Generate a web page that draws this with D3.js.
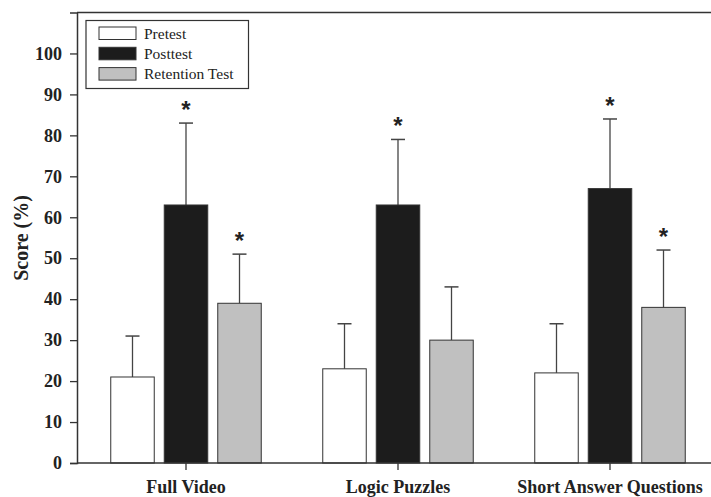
<!DOCTYPE html>
<html><head><meta charset="utf-8">
<script src="https://cdn.jsdelivr.net/npm/d3@7"></script>
<style>
body{margin:0;background:#fff;}
svg{display:block;font-family:"Liberation Serif","Times New Roman",serif;}
</style></head>
<body><svg id="c" width="711" height="497"></svg>
<script>
const categories = ["Full Video", "Logic Puzzles", "Short Answer Questions"];
const series = ["Pretest", "Posttest", "Retention Test"];
const pretest = [21, 23, 22];
const posttest = [63, 63, 67];
const retention = [39, 30, 38];
const pretestErr = [10, 11, 12];
const posttestErr = [20, 16, 17];
const retentionErr = [12, 13, 14];
const significant = [[false, true, true], [false, true, false], [false, true, true]];
const yTicks = [0, 10, 20, 30, 40, 50, 60, 70, 80, 90, 100];
const colors = ["#ffffff", "#1c1c1c", "#c0c0c0"];

const values = [pretest, posttest, retention];
const errs = [pretestErr, posttestErr, retentionErr];
const svg = d3.select("#c");
const axisColor = "#333";

const y = d3.scaleLinear().domain([0, 110]).range([463, 12.5]);
const x = d3.scaleBand().domain(categories).range([80, 716]).padding(0);
const inner = d3.scaleBand().domain(series).range([-75.25, 75.25]).paddingInner(0.187).paddingOuter(0);

// frame top line
svg.append("line").attr("x1", 77).attr("x2", 711).attr("y1", y(110)).attr("y2", y(110)).attr("stroke", axisColor).attr("stroke-width", 1.5);

// bars
categories.forEach((c, ci) => {
  series.forEach((s, si) => {
    const v = values[si][ci];
    const cx = x(c) + x.bandwidth() / 2;
    const bx = cx + inner(s);
    const bw = inner.bandwidth();
    const top = v + errs[si][ci];
    const mid = bx + bw / 2;
    svg.append("line").attr("x1", mid).attr("x2", mid).attr("y1", y(v)).attr("y2", y(top)).attr("stroke", "#444").attr("stroke-width", 1.3);
    svg.append("line").attr("x1", mid - 7).attr("x2", mid + 7).attr("y1", y(top)).attr("y2", y(top)).attr("stroke", "#444").attr("stroke-width", 1.5);
    svg.append("rect").attr("x", bx).attr("y", y(v)).attr("width", bw).attr("height", y(0) - y(v))
      .attr("fill", colors[si]).attr("stroke", "#333").attr("stroke-width", 1);
    if (significant[ci][si]) {
      svg.append("text").attr("x", mid).attr("y", y(top) - 5).attr("text-anchor", "middle")
        .attr("font-family", "'Liberation Sans', Arial, sans-serif").attr("font-weight", "bold").attr("font-size", 24)
        .attr("fill", "#222").text("*");
    }
  });
});

// y axis
const yAxis = svg.append("g").attr("transform", "translate(77,0)")
  .call(d3.axisLeft(y).tickValues(yTicks).tickSize(7).tickPadding(8));
yAxis.select(".domain").attr("stroke", axisColor).attr("stroke-width", 1.5);
yAxis.selectAll(".tick line").attr("stroke", axisColor).attr("stroke-width", 1.3);
yAxis.selectAll(".tick text").attr("font-family", "'Liberation Serif', serif").attr("font-weight", "bold").attr("font-size", 18).attr("fill", "#222");

// x axis
const xAxis = svg.append("g").attr("transform", `translate(0,${y(0)})`)
  .call(d3.axisBottom(x).tickSize(7).tickPadding(10));
xAxis.select(".domain").remove();
xAxis.selectAll(".tick line").attr("stroke", axisColor).attr("stroke-width", 1.3);
xAxis.selectAll(".tick text").attr("font-family", "'Liberation Serif', serif").attr("font-weight", "bold").attr("font-size", 18).attr("fill", "#222");
svg.append("line").attr("x1", 77).attr("x2", 711).attr("y1", y(0)).attr("y2", y(0)).attr("stroke", axisColor).attr("stroke-width", 1.5);

// y label
svg.append("text").attr("transform", "translate(28,238) rotate(-90)").attr("text-anchor", "middle")
  .attr("font-weight", "bold").attr("font-size", 20).attr("fill", "#222").text("Score (%)");

// legend
const lg = svg.append("g");
lg.append("rect").attr("x", 86).attr("y", 20.5).attr("width", 162.5).attr("height", 68).attr("fill", "#fff").attr("stroke", "#333").attr("stroke-width", 1.2);
series.forEach((s, i) => {
  lg.append("rect").attr("x", 99).attr("y", 27 + i * 20.3).attr("width", 37).attr("height", 12.5)
    .attr("fill", colors[i]).attr("stroke", "#333").attr("stroke-width", 1);
  lg.append("text").attr("x", 144).attr("y", 38.5 + i * 20.3).attr("font-size", 15.5).attr("fill", "#222").text(s);
});
</script></body></html>
